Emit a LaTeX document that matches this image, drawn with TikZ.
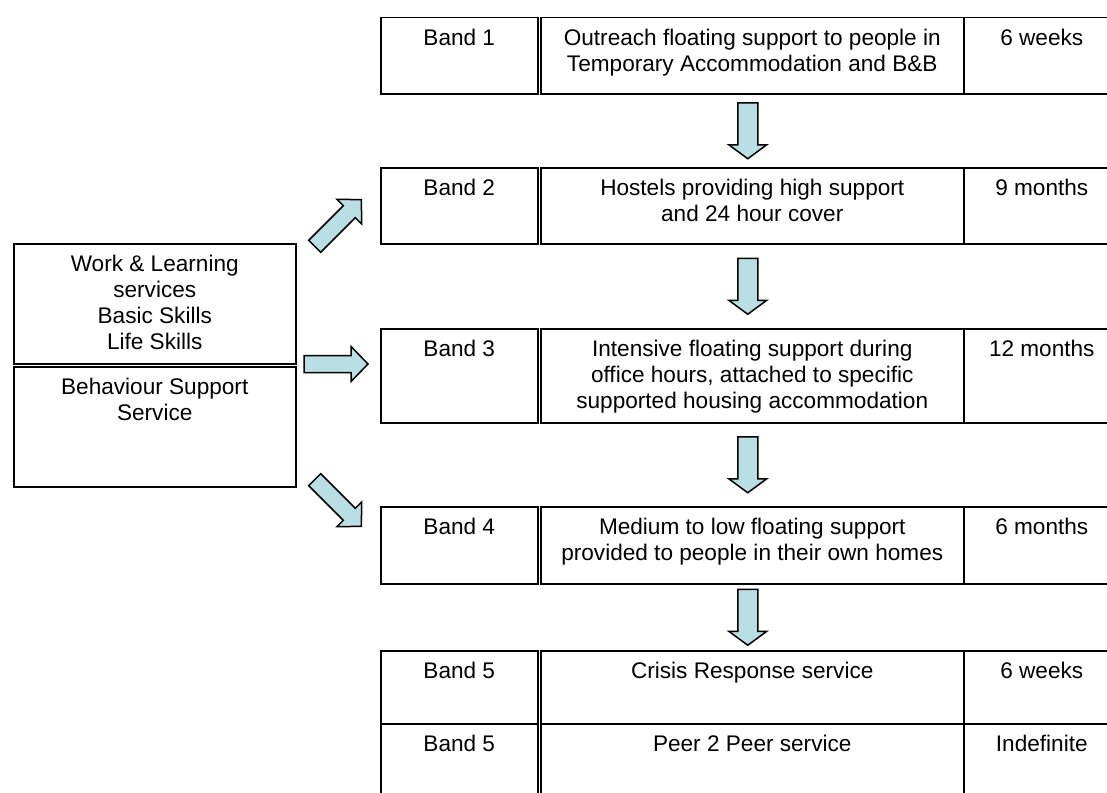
\documentclass[tikz,border=0pt]{standalone}
\usepackage{fontspec}
\setmainfont{Liberation Sans}
\usepackage{tikz}
\usetikzlibrary{calc}
\definecolor{arrowblue}{RGB}{185,222,228}

\begin{document}
\begin{tikzpicture}[
    x=1pt, y=-1pt,
    cell/.style={
        draw,
        line width=1.5pt,
        anchor=north west,
        inner sep=0pt
    },
    txt/.style={
        anchor=north,
        inner sep=0pt,
        align=center,
        font=\fontsize{22.6}{26}\selectfont
    },
    blockfill/.style={draw, line width=1.5pt, fill=arrowblue, line join=miter},
    pics/blockarrow/.style n args={4}{code={
        \draw[blockfill] (-#1/2,-#2) -- (#1/2-#4,-#2) -- (#1/2-#4,-#3) -- (#1/2,0)
            -- (#1/2-#4,#3) -- (#1/2-#4,#2) -- (-#1/2,#2) -- cycle;
    }}
]
\useasboundingbox (0,0) rectangle (1107,792);

% band rows
\node[cell, minimum width=157pt, minimum height=76pt] (c1b) at (380,17) {};
\node[cell, minimum width=423pt, minimum height=76pt] (c1d) at (540,17) {};
\node[cell, minimum width=156pt, minimum height=76pt] (c1t) at (963,17) {};

\node[cell, minimum width=157pt, minimum height=76pt] (c2b) at (380,167) {};
\node[cell, minimum width=423pt, minimum height=76pt] (c2d) at (540,167) {};
\node[cell, minimum width=156pt, minimum height=76pt] (c2t) at (963,167) {};

\node[cell, minimum width=157pt, minimum height=94pt] (c3b) at (380,328) {};
\node[cell, minimum width=423pt, minimum height=94pt] (c3d) at (540,328) {};
\node[cell, minimum width=156pt, minimum height=94pt] (c3t) at (963,328) {};

\node[cell, minimum width=157pt, minimum height=77pt] (c4b) at (380,506) {};
\node[cell, minimum width=423pt, minimum height=77pt] (c4d) at (540,506) {};
\node[cell, minimum width=156pt, minimum height=77pt] (c4t) at (963,506) {};

\node[cell, minimum width=157pt, minimum height=73pt] (c5b) at (380,650) {};
\node[cell, minimum width=423pt, minimum height=73pt] (c5d) at (540,650) {};
\node[cell, minimum width=156pt, minimum height=73pt] (c5t) at (963,650) {};

\node[cell, minimum width=157pt, minimum height=80pt] (c6b) at (380,723) {};
\node[cell, minimum width=423pt, minimum height=80pt] (c6d) at (540,723) {};
\node[cell, minimum width=156pt, minimum height=80pt] (c6t) at (963,723) {};

% services on the left
\node[cell, minimum width=282pt, minimum height=120pt] (work) at (13,243) {};
\node[cell, minimum width=282pt, minimum height=120pt] (behav) at (13,366) {};

% texts
\node[txt] (t1b) at ($(c1b.north)+(0,12)$) {Band 1};
\node[txt] (t1d) at ($(c1d.north)+(0,12)$) {Outreach floating support to people in\\Temporary Accommodation and B\&B};
\node[txt] (t1t) at ($(c1t.north)+(0,12)$) {6 weeks};

\node[txt] (t2b) at ($(c2b.north)+(0,12)$) {Band 2};
\node[txt] (t2d) at ($(c2d.north)+(0,12)$) {Hostels providing high support\\and 24 hour cover};
\node[txt] (t2t) at ($(c2t.north)+(0,12)$) {9 months};

\node[txt] (t3b) at ($(c3b.north)+(0,12)$) {Band 3};
\node[txt] (t3d) at ($(c3d.north)+(0,12)$) {Intensive floating support during\\office hours, attached to specific\\supported housing accommodation};
\node[txt] (t3t) at ($(c3t.north)+(0,12)$) {12 months};

\node[txt] (t4b) at ($(c4b.north)+(0,12)$) {Band 4};
\node[txt] (t4d) at ($(c4d.north)+(0,12)$) {Medium to low floating support\\provided to people in their own homes};
\node[txt] (t4t) at ($(c4t.north)+(0,12)$) {6 months};

\node[txt] (t5b) at ($(c5b.north)+(0,12)$) {Band 5};
\node[txt] (t5d) at ($(c5d.north)+(0,12)$) {Crisis Response service};
\node[txt] (t5t) at ($(c5t.north)+(0,12)$) {6 weeks};

\node[txt] (t6b) at ($(c6b.north)+(0,12)$) {Band 5};
\node[txt] (t6d) at ($(c6d.north)+(0,12)$) {Peer 2 Peer service};
\node[txt] (t6t) at ($(c6t.north)+(0,12)$) {Indefinite};

\node[txt] (twork) at ($(work.north)+(0,12)$) {Work \& Learning\\services\\Basic Skills\\Life Skills};
\node[txt] (tbehav) at ($(behav.north)+(0,12)$) {Behaviour Support\\Service};

% block arrows down the bands
\pic[rotate=-90] at ($(c1d.south)!0.5!(c2d.north)+(-4.5,0)$) {blockarrow={56}{10}{19}{14}};
\pic[rotate=-90] at ($(c2d.south)!0.5!(c3d.north)+(-4.5,0)$) {blockarrow={56}{10}{19}{14}};
\pic[rotate=-90] at ($(c3d.south)!0.5!(c4d.north)+(-4.5,0)$) {blockarrow={56}{10}{19}{14}};
\pic[rotate=-90] at ($(c4d.south)!0.5!(c5d.north)+(-4.5,0)$) {blockarrow={56}{10}{19}{14}};

% block arrows from the services
\pic[rotate=45] at (338,223) {blockarrow={66}{8.5}{17.5}{17}};
\pic at (336,364) {blockarrow={64}{8.5}{17.5}{17}};
\pic[rotate=-45] at (338,503) {blockarrow={66}{8.5}{17.5}{17}};

\end{tikzpicture}
\end{document}
